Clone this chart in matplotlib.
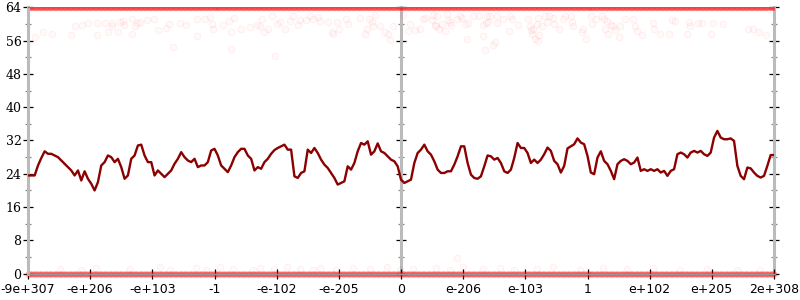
import numpy as np
import matplotlib.pyplot as plt
from matplotlib.ticker import MultipleLocator

tick_labels = ["-9e+307", "-e+206", "-e+103", "-1", "-e-102", "-e-205", "0",
               "e-206", "e-103", "1", "e+102", "e+205", "2e+308"]

# median line, evenly spaced over the whole axis
line_y = [
    23.6, 23.6, 23.6, 26.0, 27.8, 29.4, 28.8, 28.8, 28.4, 28.0,
    27.2, 26.4, 25.6, 24.8, 23.6, 24.8, 22.4, 24.6, 22.8, 21.6,
    20.0, 22.0, 26.0, 26.8, 28.4, 28.0, 26.8, 27.6, 25.6, 22.8,
    23.6, 27.6, 28.4, 30.8, 31.0, 28.4, 26.8, 26.8, 23.6, 24.8,
    24.0, 23.2, 24.0, 24.8, 26.4, 27.6, 29.2, 28.0, 27.2, 26.8,
    27.6, 25.6, 26.0, 26.0, 26.8, 29.6, 30.0, 28.4, 26.0, 25.2,
    24.4, 26.0, 28.0, 29.2, 30.0, 30.0, 28.4, 27.6, 24.8, 25.6,
    25.2, 26.8, 27.6, 28.8,
    29.7, 30.2, 30.6, 31.0, 29.8, 29.8, 23.4, 23.0, 24.2, 24.6,
    29.8, 29.0, 30.2, 29.0, 27.4, 26.2, 25.4, 24.2, 23.0, 21.4,
    21.8, 22.2, 25.8, 25.0, 26.6, 29.4, 31.4, 31.0, 31.8, 28.6,
    29.4, 31.3, 29.4, 29.0, 28.2, 27.4, 27.0, 25.8, 22.6, 21.8,
    22.2, 22.6, 26.6, 29.0, 29.8, 31.0, 29.4, 28.6, 27.0, 25.0,
    24.2, 24.2, 24.6, 24.6, 26.2, 28.2, 30.6, 30.6, 26.6, 23.8,
    23.0, 22.8, 23.4, 25.8, 28.4, 28.2, 27.4, 27.8, 26.6, 24.6,
    24.2, 25.0, 27.8, 31.4, 30.2, 30.2, 29.0, 26.6, 27.4, 26.6, 27.4,
    28.7, 30.3, 29.5, 27.1, 26.3, 24.3, 25.9, 30.1, 30.6, 31.1,
    32.5, 31.5, 31.1, 28.3, 24.3, 23.9, 27.9, 29.4, 27.1, 26.3,
    24.7, 22.7, 26.3, 27.1, 27.5, 27.1, 26.3, 26.7, 27.9, 24.7,
    25.1, 24.7, 25.1, 24.7, 25.1, 24.3, 24.7, 23.5, 24.7, 25.1,
    28.7, 29.1, 28.7, 27.9, 29.1, 29.5, 29.1, 29.5, 28.7, 28.3,
    29.1, 32.7, 34.3, 32.7, 32.3, 32.3, 32.5, 31.9, 25.9, 23.5,
    22.7, 25.5, 25.3, 24.3, 23.5, 23.1, 23.5, 25.9, 28.5, 28.5,
]

# scattered samples just under the top
top_dots_x = [
    0.113, 0.236, 0.381, 0.686, 0.756, 0.863, 0.970, 1.115, 1.115, 1.239,
    1.281, 1.346, 1.346, 1.453, 1.480, 1.533, 1.544, 1.667, 1.678, 1.721,
    1.748, 1.801, 1.909, 2.032, 2.086, 2.220, 2.273, 2.327, 2.445, 2.536,
    2.713, 2.724, 2.847, 2.927, 2.955, 2.971, 3.131, 3.238, 3.261, 3.265,
    3.319, 3.421, 3.571, 3.689, 3.732, 3.759, 3.796, 3.866, 3.930, 3.973,
    4.000, 4.053, 4.134, 4.214, 4.268, 4.348, 4.375, 4.472, 4.536, 4.579,
    4.670, 4.697, 4.830, 4.885, 4.911, 4.965, 5.008, 5.115, 5.152, 5.340,
    5.421, 5.448, 5.485, 5.528, 5.555, 5.581, 5.662, 5.742, 5.796, 5.823,
    5.876,
    6.038, 6.145, 6.118, 6.225, 6.305, 6.348, 6.386, 6.493, 6.520, 6.547,
    6.563, 6.584, 6.616, 6.654, 6.707, 6.734, 6.761, 6.788, 6.799, 6.895,
    6.949, 6.976, 7.029, 7.056, 7.083, 7.153, 7.260, 7.313, 7.313, 7.351,
    7.367, 7.378, 7.405, 7.431, 7.485, 7.512, 7.539, 7.549, 7.646, 7.742,
    7.753, 7.780, 7.887, 8.048, 8.075, 8.085, 8.102, 8.128, 8.155, 8.182,
    8.198, 8.209, 8.225, 8.262, 8.316, 8.343, 8.386, 8.450, 8.461, 8.547,
    8.611, 8.638, 8.729, 8.745, 8.761, 8.906, 8.933, 8.976, 9.051, 9.067,
    9.137, 9.228, 9.265, 9.281, 9.308, 9.335, 9.373, 9.415, 9.442, 9.512,
    9.523, 9.603, 9.737, 9.764, 9.801, 9.871, 10.059, 10.070, 10.166, 10.316,
    10.354, 10.407, 10.595, 10.638, 10.648, 10.783, 10.836, 10.981, 11.013, 11.185,
    11.587, 11.657, 11.764, 11.871,
]
top_dots_y = [
    56.9, 58.0, 57.7, 57.4, 59.6, 59.8, 60.2, 60.3, 57.3, 60.2,
    58.0, 60.3, 59.6, 58.0, 60.4, 60.6, 59.7, 61.3, 57.6, 59.5,
    60.3, 60.5, 61.0, 61.1, 58.5, 59.1, 60.0, 54.5, 60.3, 59.7,
    61.2, 57.1, 61.3, 61.6, 59.9, 58.7, 59.7, 60.7, 58.1, 53.9,
    61.5, 58.9, 59.2, 59.7, 59.4, 61.2, 58.0, 58.9, 61.8, 52.4,
    60.0, 60.5, 58.9, 60.8, 62.0, 59.7, 61.0, 61.0, 61.9, 61.1,
    61.6, 60.8, 60.5, 58.1, 57.7, 60.4, 58.9, 61.3, 60.0, 61.5,
    57.7, 58.9, 61.2, 60.5, 59.4, 62.2, 59.5, 58.0, 57.6, 56.1,
    59.4,
    62.2, 60.0, 58.3, 58.5, 58.9, 61.3, 61.5, 61.0, 62.2, 59.7,
    59.4, 61.8, 58.7, 60.0, 58.4, 62.4, 61.0, 60.5, 59.7, 61.3,
    61.8, 61.5, 60.0, 56.4, 60.2, 62.0, 61.9, 59.7, 57.2, 53.7,
    60.2, 61.8, 60.5, 61.9, 54.9, 55.7, 62.0, 60.2, 61.3, 58.3,
    61.8, 61.2, 59.7, 61.3, 59.4, 58.5, 57.7, 58.9, 56.5, 60.0,
    56.0, 61.5, 57.3, 59.4, 61.8, 60.5, 61.8, 61.5, 59.9, 58.9,
    61.3, 61.8, 61.9, 60.5, 59.4, 58.1, 58.9, 56.5, 61.8, 60.0,
    61.3, 61.8, 61.3, 58.7, 60.8, 57.7, 59.7, 59.4, 58.5, 56.8,
    59.6, 61.3, 61.3, 59.6, 58.4, 57.3, 60.3, 58.9, 57.7, 57.7,
    61.0, 60.8, 57.5, 60.5, 59.4, 60.3, 60.2, 57.7, 60.2, 59.9,
    58.9, 58.7, 58.1, 57.3,
]

# scattered samples just above zero
low_dots_x = [0.51, 0.86, 1.10, 1.64, 2.12, 2.28, 2.71, 2.87, 3.09, 3.30,
              3.62, 3.73, 3.95, 4.16, 4.38, 4.59, 4.70, 4.96, 5.23, 5.50,
              5.77, 5.98, 6.20, 6.57, 6.79, 6.90, 7.00, 7.32, 7.59, 7.81,
              8.18, 8.45, 8.88, 9.25, 9.63, 10.06, 10.49, 10.92, 11.40, 11.77]
low_dots_y = [1.2, 0.9, 1.4, 1.1, 1.5, 0.8, 1.3, 1.0, 1.6, 1.2,
              0.9, 1.4, 1.1, 1.5, 1.2, 0.8, 1.3, 1.0, 1.4, 1.1,
              1.6, 0.9, 1.2, 1.3, 1.0, 3.7, 1.5, 1.1, 1.4, 0.9,
              1.2, 1.5, 1.0, 1.3, 1.1, 1.4, 0.9, 1.2, 1.0, 0.8]

n = len(line_y)
line_x = np.linspace(0, len(tick_labels) - 1, n)
mid_x = (line_x[:-1] + line_x[1:]) / 2
band_x = np.concatenate([line_x, mid_x])

fig = plt.figure(figsize=(8, 3), dpi=100)
ax = fig.add_axes([0.035, 0.0877, 0.9325, 0.888])

# saturated bands at both ends of the range
ax.scatter(band_x, np.full(len(band_x), 64.0), s=26, color="red", alpha=0.28,
           lw=0, zorder=2)
ax.scatter(band_x, np.full(len(band_x), 0.0), s=20, color="red", alpha=0.28,
           lw=0, zorder=2, clip_on=False)
ax.scatter(top_dots_x, top_dots_y, s=22, facecolor=(1, 0, 0, 0.02),
           edgecolor=(1, 0, 0, 0.05), lw=0.8, zorder=2)
ax.scatter(low_dots_x, low_dots_y, s=22, facecolor=(1, 0, 0, 0.02),
           edgecolor=(1, 0, 0, 0.05), lw=0.8, zorder=2, clip_on=False)

ax.plot(line_x, line_y, color="#8b0000", lw=1.7, zorder=4)
ax.axhline(64, color="#777777", lw=0.8, zorder=3)

ax.set_xlim(0, len(tick_labels) - 1)
ax.set_ylim(0, 64)
ax.set_xticks(range(len(tick_labels)))
ax.set_xticklabels(tick_labels)
ax.yaxis.set_major_locator(MultipleLocator(8))
ax.yaxis.set_minor_locator(MultipleLocator(4))

ax.spines["top"].set_visible(False)
ax.spines["right"].set_visible(False)
ax.spines["bottom"].set_color("#999999")
ax.spines["bottom"].set_linewidth(1)
ax.spines["left"].set_color("#bbbbbb")
ax.spines["left"].set_linewidth(2.2)

ax.tick_params(axis="x", direction="inout", length=7.5, width=0.9,
               color="black", pad=3, labelsize=9)
ax.tick_params(axis="y", which="major", direction="inout", length=7.5,
               width=0.9, color="black", pad=1, labelsize=9,
               labelfontfamily="DejaVu Serif")
ax.tick_params(axis="y", which="minor", direction="inout", length=4,
               width=0.9, color="#888888")

# middle and right axes, ticks only
for loc in (0.5, 1.0):
    sec = ax.secondary_yaxis(loc)
    sec.yaxis.set_major_locator(MultipleLocator(8))
    sec.yaxis.set_minor_locator(MultipleLocator(4))
    sec.tick_params(which="major", direction="inout", length=7.5, width=0.9,
                    color="black", labelleft=False, labelright=False)
    sec.tick_params(which="minor", direction="inout", length=4, width=0.9,
                    color="#888888")
    for sp in sec.spines.values():
        sp.set_color("#bbbbbb")
        sp.set_linewidth(2.2)

fig.savefig("out.png", dpi=100)
